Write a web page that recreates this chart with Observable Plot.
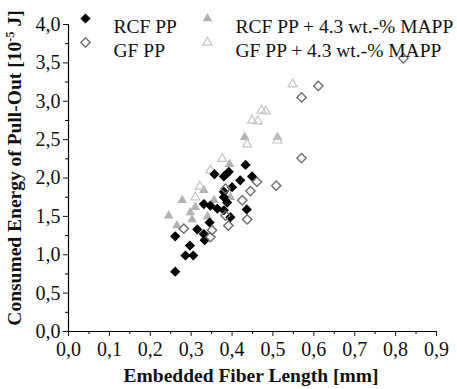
<!DOCTYPE html>
<html><head><meta charset="utf-8">
<script src="https://cdn.jsdelivr.net/npm/d3@7"></script>
<script src="https://cdn.jsdelivr.net/npm/@observablehq/plot@0.6"></script>
<style>
body{margin:0;background:#fff;}
</style></head>
<body><div id="chart"></div>
<script>
// Series: RCF PP (black filled diamonds)
const rcfX = [0.261,0.286,0.305,0.297,0.261,0.315,0.331,0.333,0.345,0.331,0.347,0.364,0.380,0.380,0.380,0.400,0.396,0.436,0.357,0.380,0.392,0.420,0.433,0.449,0.388];
const rcfY = [0.78,0.99,0.99,1.12,1.24,1.33,1.27,1.19,1.42,1.66,1.64,1.60,1.58,1.75,1.82,1.88,1.49,1.59,2.05,2.02,2.08,1.97,2.17,2.02,1.68];
// GF PP (open diamonds)
const gfX = [0.282,0.347,0.351,0.391,0.437,0.425,0.445,0.384,0.461,0.508,0.570,0.570,0.611,0.819,0.384];
const gfY = [1.34,1.23,1.32,1.38,1.46,1.71,1.83,1.86,1.95,1.90,2.26,3.05,3.20,3.56,1.51];
// RCF PP + 4.3 wt.-% MAPP (filled light gray triangles)
const rcfMX = [0.245,0.265,0.278,0.298,0.302,0.331,0.356,0.396,0.394,0.431,0.511,0.310,0.340];
const rcfMY = [1.51,1.38,1.71,1.55,1.46,1.84,1.71,1.75,2.18,2.53,2.53,1.62,1.50];
// GF PP + 4.3 wt.-% MAPP (open light triangles)
const gfMX = [0.321,0.347,0.376,0.437,0.511,0.449,0.463,0.472,0.482,0.548,0.310];
const gfMY = [1.89,2.10,2.25,2.44,2.49,2.75,2.74,2.88,2.87,3.22,1.75];

const seriesNames = ["RCF PP","GF PP","RCF PP + 4.3 wt.-% MAPP","GF PP + 4.3 wt.-% MAPP"];
const xTicks = [0,0.1,0.2,0.3,0.4,0.5,0.6,0.7,0.8,0.9];
const yTicks = [0,0.5,1.0,1.5,2.0,2.5,3.0,3.5,4.0];
const xTitle = "Embedded Fiber Length [mm]";
const yTitleMain = "Consumed Energy of Pull-Out [10";
const yTitleSup = "-5";
const yTitleEnd = " J]";

const FONT = "'Liberation Serif', 'Times New Roman', Times, serif";

const toRows = (xs, ys) => xs.map((x, i) => ({x, y: ys[i]}));
const rcf = toRows(rcfX, rcfY), gf = toRows(gfX, gfY), rcfM = toRows(rcfMX, rcfMY), gfM = toRows(gfMX, gfMY);

const fmt = d => d.toFixed(1).replace(".", ",");
const xMinor = d3.range(0.05, 0.9, 0.1);
const yMinor = d3.range(0.25, 4.0, 0.5);

const styles = [
  {symbol:"diamond2", fill:"#000", stroke:"none", r:4.6},
  {symbol:"diamond2", fill:"none", stroke:"#6e6e6e", strokeWidth:1.4, r:4.2},
  {symbol:"triangle2", fill:"#b3b3b3", stroke:"none", r:4.6},
  {symbol:"triangle2", fill:"none", stroke:"#c4c4c4", strokeWidth:1.2, r:4.3}
];
const legendPos = [[17,-6],[17,18],[139,-6],[139,18]];

const legendMarks = seriesNames.flatMap((name, i) => [
  Plot.dot([name], {frameAnchor:"top-left", dx:legendPos[i][0], dy:legendPos[i][1], ...styles[i]}),
  Plot.text([name], {frameAnchor:"top-left", dx:legendPos[i][0]+28, dy:legendPos[i][1]+1, textAnchor:"start", fontSize:19.5, fill:"#111"})
]);

const svg = Plot.plot({
  width: 457, height: 389,
  marginLeft: 68, marginRight: 21, marginTop: 24, marginBottom: 58,
  style: {background:"#fff", fontFamily: FONT},
  x: {domain:[0,0.9]},
  y: {domain:[0,4]},
  marks: [
    Plot.axisX(xTicks, {tickSize:5, tickPadding:5, tickFormat:fmt, fontSize:20, label:null, color:"#111"}),
    Plot.axisX(xMinor, {tickSize:3, text:null, label:null}),
    Plot.axisY(yTicks, {tickSize:5, tickPadding:3, tickFormat:fmt, fontSize:20, label:null, color:"#111"}),
    Plot.axisY(yMinor, {tickSize:3, text:null, label:null}),
    Plot.ruleY([0], {stroke:"#000", strokeWidth:1.2}),
    Plot.ruleX([0], {stroke:"#000", strokeWidth:1.2}),
    Plot.dot(rcfM, {x:"x", y:"y", ...styles[2]}),
    Plot.dot(gfM, {x:"x", y:"y", ...styles[3]}),
    Plot.dot(rcf, {x:"x", y:"y", ...styles[0]}),
    Plot.dot(gf, {x:"x", y:"y", ...styles[1]}),
    ...legendMarks
  ]
});

const s = d3.select(svg);
s.append("text")
  .attr("x", 251).attr("y", 382)
  .attr("text-anchor","middle")
  .attr("font-weight","bold").attr("font-size", 19.5).attr("fill","#111")
  .text(xTitle);
const yt = s.append("text")
  .attr("transform","translate(21,168) rotate(-90)")
  .attr("text-anchor","middle")
  .attr("font-weight","bold").attr("font-size", 19.5).attr("fill","#111");
yt.append("tspan").text(yTitleMain);
yt.append("tspan").attr("font-size", 12.5).attr("dy", -7).text(yTitleSup);
yt.append("tspan").attr("dy", 7).text(yTitleEnd);

s.attr("font-family", FONT);
s.selectAll("g").attr("font-family", null);
s.selectAll("text").attr("font-family", FONT).style("font-family", FONT);

document.getElementById("chart").appendChild(svg);
</script></body></html>
